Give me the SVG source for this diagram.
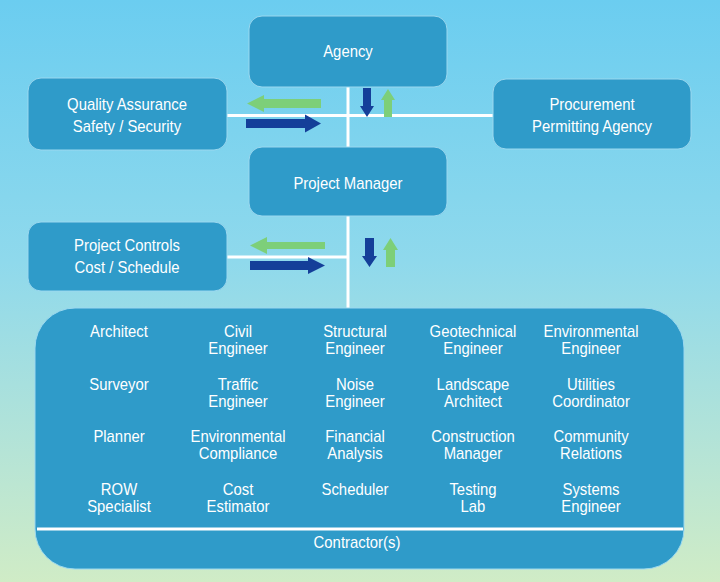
<svg xmlns="http://www.w3.org/2000/svg" width="720" height="582" viewBox="0 0 720 582">
<defs>
<linearGradient id="bg" x1="0" y1="0" x2="0" y2="1">
<stop offset="0" stop-color="#6bcdf0"/>
<stop offset="0.45" stop-color="#8fd9ec"/>
<stop offset="0.75" stop-color="#b2e3d8"/>
<stop offset="1" stop-color="#d0ecc6"/>
</linearGradient>
<style>
.box{fill:#2f9bc9;stroke:#9bd8ef;stroke-width:1}
.t{font-family:"Liberation Sans",Arial,sans-serif;font-size:16px;fill:#ffffff;text-anchor:middle}
.ln{stroke:#ffffff;stroke-width:3;fill:none}
.blue{fill:#143f99}
.green{fill:#7dcf79}
</style>
</defs>
<rect x="0" y="0" width="720" height="582" fill="url(#bg)"/>
<g id="connectors">
<line class="ln" x1="348" y1="87" x2="348" y2="147"/>
<line class="ln" x1="227" y1="115.5" x2="493" y2="115.5"/>
<line class="ln" x1="348" y1="216" x2="348" y2="309"/>
<line class="ln" x1="227" y1="257" x2="348" y2="257"/>
<polygon class="green" points="321,99 264,99 264,95 247,103.5 264,112 264,108 321,108"/>
<polygon class="blue" points="246,119 305,119 305,114.5 321,123.5 305,132.5 305,128 246,128"/>
<polygon class="blue" points="363,88 371,88 371,106 374,106 367,117 360,106 363,106"/>
<polygon class="green" points="384,117 392,117 392,100 395,100 388,89 381,100 384,100"/>
<polygon class="green" points="325,242 267,242 267,237 250,245.5 267,254 267,249 325,249"/>
<polygon class="blue" points="250,261 308,261 308,257 325,265.5 308,274 308,270 250,270"/>
<polygon class="blue" points="365,238 374,238 374,256 377,256 369.5,267 362,256 365,256"/>
<polygon class="green" points="386,267 395,267 395,250 398,250 390.5,238 383,250 386,250"/>
</g>
<g id="agency">
<rect class="box" x="249" y="16" width="198" height="71" rx="13"/>
<g transform="scale(0.93 1)"><text class="t" x="374.19" y="57.5">Agency</text></g>
</g>
<g id="qa">
<rect class="box" x="28" y="78" width="199" height="72" rx="13"/>
<g transform="scale(0.93 1)">
<text class="t" x="136.56" y="110.5">Quality Assurance</text>
<text class="t" x="136.56" y="132.5">Safety / Security</text>
</g>
</g>
<g id="procurement">
<rect class="box" x="493" y="79" width="198" height="70" rx="13"/>
<g transform="scale(0.93 1)">
<text class="t" x="636.56" y="110.5">Procurement</text>
<text class="t" x="636.56" y="132.5">Permitting Agency</text>
</g>
</g>
<g id="pm">
<rect class="box" x="249" y="147" width="198" height="69" rx="13"/>
<g transform="scale(0.93 1)"><text class="t" x="374.19" y="189.5">Project Manager</text></g>
</g>
<g id="controls">
<rect class="box" x="28" y="222" width="199" height="69" rx="13"/>
<g transform="scale(0.93 1)">
<text class="t" x="136.56" y="251.5">Project Controls</text>
<text class="t" x="136.56" y="273.5">Cost / Schedule</text>
</g>
</g>
<g id="team">
<rect class="box" x="35" y="308" width="649" height="261" rx="40"/>
<line class="ln" x1="37" y1="529" x2="683" y2="529"/>
<g transform="scale(0.93 1)">
<text class="t" x="127.96" y="337">Architect</text>
<text class="t" x="255.91" y="337">Civil</text>
<text class="t" x="255.91" y="354">Engineer</text>
<text class="t" x="381.72" y="337">Structural</text>
<text class="t" x="381.72" y="354">Engineer</text>
<text class="t" x="508.60" y="337">Geotechnical</text>
<text class="t" x="508.60" y="354">Engineer</text>
<text class="t" x="635.48" y="337">Environmental</text>
<text class="t" x="635.48" y="354">Engineer</text>
<text class="t" x="127.96" y="390">Surveyor</text>
<text class="t" x="255.91" y="390">Traffic</text>
<text class="t" x="255.91" y="407">Engineer</text>
<text class="t" x="381.72" y="390">Noise</text>
<text class="t" x="381.72" y="407">Engineer</text>
<text class="t" x="508.60" y="390">Landscape</text>
<text class="t" x="508.60" y="407">Architect</text>
<text class="t" x="635.48" y="390">Utilities</text>
<text class="t" x="635.48" y="407">Coordinator</text>
<text class="t" x="127.96" y="442">Planner</text>
<text class="t" x="255.91" y="442">Environmental</text>
<text class="t" x="255.91" y="459">Compliance</text>
<text class="t" x="381.72" y="442">Financial</text>
<text class="t" x="381.72" y="459">Analysis</text>
<text class="t" x="508.60" y="442">Construction</text>
<text class="t" x="508.60" y="459">Manager</text>
<text class="t" x="635.48" y="442">Community</text>
<text class="t" x="635.48" y="459">Relations</text>
<text class="t" x="127.96" y="495">ROW</text>
<text class="t" x="127.96" y="512">Specialist</text>
<text class="t" x="255.91" y="495">Cost</text>
<text class="t" x="255.91" y="512">Estimator</text>
<text class="t" x="381.72" y="495">Scheduler</text>
<text class="t" x="508.60" y="495">Testing</text>
<text class="t" x="508.60" y="512">Lab</text>
<text class="t" x="635.48" y="495">Systems</text>
<text class="t" x="635.48" y="512">Engineer</text>
<text class="t" x="383.87" y="548">Contractor(s)</text>
</g>
</g>
</svg>
